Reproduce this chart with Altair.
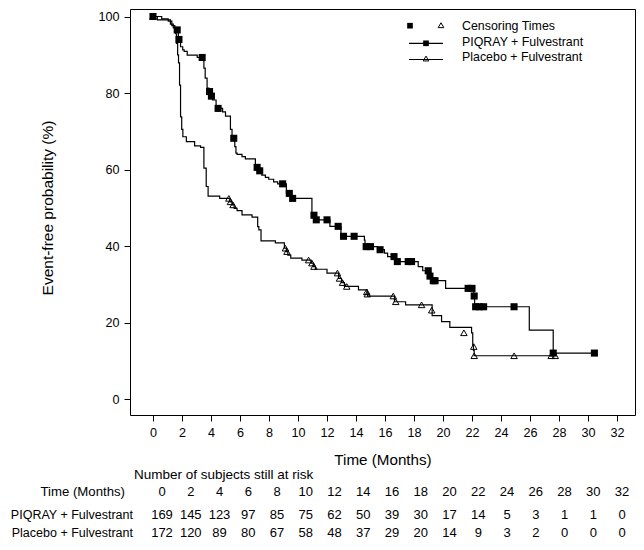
import altair as alt
import pandas as pd

FONT = "Liberation Sans"

# ---- Kaplan-Meier step curves (time in months, event-free %) ----
piqray_t = [0, 0.6, 1.05, 1.3, 1.5, 1.75, 1.9, 2.05, 2.15, 2.36,
            3.05, 3.51, 3.6, 3.73, 3.85, 3.98, 4.1, 4.35, 4.8, 5.0,
            5.34, 5.45, 5.64, 5.72, 5.8, 6.14, 6.37, 7.06, 7.25, 7.5,
            7.75, 7.98, 8.32, 8.6, 9.2, 9.55, 10.96, 11.2, 12.2, 12.96,
            14.58, 14.62, 15.5, 15.96, 16.18, 16.75, 18.29, 18.6, 19.05, 19.25,
            20.18, 22.12, 22.18, 25.95, 27.6, 30.44]
piqray_s = [100, 99.4, 98.8, 97.6, 96.5, 94.0, 92.1, 91.3, 90.9, 89.9,
            89.3, 86.5, 83.9, 81.3, 80.4, 79.2, 78.2, 76.0, 75.1, 74.0,
            70.5, 68.2, 66.0, 64.3, 64.0, 63.4, 62.8, 60.6, 59.7, 58.6,
            58.0, 57.5, 56.8, 56.3, 53.8, 52.5, 48.1, 46.9, 45.2, 42.6,
            41.6, 39.9, 39.1, 38.2, 37.3, 36.0, 34.7, 33.6, 32.2, 31.0,
            29.0, 27.0, 24.2, 18.1, 12.1, 12.1]

placebo_t = [0, 0.3, 1.2, 1.4, 1.55, 1.62, 1.7, 1.76, 1.83, 1.9,
             1.98, 2.06, 2.3, 2.87, 3.28, 3.51, 3.67, 3.8, 4.6, 5.3,
             5.45, 5.6, 5.8, 6.14, 6.83, 7.22, 7.3, 7.45, 8.44, 9.06,
             9.2, 9.3, 9.5, 10.27, 10.9, 11.05, 11.2, 12.0, 12.8, 13.0,
             13.2, 14.17, 14.76, 14.8, 16.65, 17.42, 19.25, 19.9, 20.47, 21.97,
             22.05, 22.1, 22.15, 27.74]
placebo_s = [100, 99.1, 98.0, 97.0, 95.5, 93.0, 90.0, 87.9, 82.1, 73.8,
             70.5, 68.6, 67.3, 66.2, 65.8, 60.4, 55.6, 53.1, 52.5, 51.6,
             50.8, 49.9, 49.3, 48.2, 47.6, 45.1, 44.3, 41.4, 40.9, 39.5,
             38.6, 37.7, 36.9, 36.4, 35.6, 34.7, 34.0, 33.0, 31.6, 30.5,
             29.5, 28.6, 27.5, 27.0, 25.5, 24.7, 21.9, 20.3, 18.8, 17.4,
             14.2, 12.8, 11.4, 11.4]

# ---- Censoring times ----
piqray_cens_t = [0, 1.67, 1.79, 3.39, 3.9, 4.03, 4.49, 5.57, 7.18, 7.36,
                 8.94, 9.4, 9.63, 11.1, 11.26, 12.0, 12.77, 13.14, 13.87, 14.7,
                 15.0, 15.66, 16.62, 16.85, 17.6, 17.83, 18.98, 19.1, 19.33, 19.45,
                 21.73, 22.0, 22.15, 22.25, 22.5, 22.8, 24.9, 27.6, 30.44]
piqray_cens_s = [100, 96.5, 94.0, 89.3, 80.4, 79.2, 76.0, 68.2, 60.6, 59.7,
                 56.3, 53.8, 52.5, 48.1, 46.9, 46.9, 45.2, 42.6, 42.6, 39.9,
                 39.9, 39.1, 37.3, 36.0, 36.0, 36.0, 33.6, 32.2, 31.0, 31.0,
                 29.0, 29.0, 27.0, 24.2, 24.2, 24.2, 24.2, 12.1, 12.1]

placebo_cens_t = [0, 5.23, 5.34, 5.52, 9.13, 9.24, 10.73, 10.96, 11.1, 12.72,
                  12.86, 13.07, 13.36, 14.74, 14.78, 16.57, 16.74, 18.52, 19.22, 21.44,
                  22.12, 22.15, 24.9, 27.46, 27.74]
placebo_cens_s = [100, 52.5, 51.6, 50.8, 39.5, 38.6, 36.4, 35.6, 34.7, 33.0,
                  31.6, 30.5, 29.5, 28.1, 27.5, 27.0, 25.5, 24.7, 23.3, 17.4,
                  13.8, 11.4, 11.4, 11.4, 11.4]

# ---- Number at risk ----
risk_times = [0, 2, 4, 6, 8, 10, 12, 14, 16, 18, 20, 22, 24, 26, 28, 30, 32]
piqray_risk = [169, 145, 123, 97, 85, 75, 62, 50, 39, 30, 17, 14, 5, 3, 1, 1, 0]
placebo_risk = [172, 120, 89, 80, 67, 58, 48, 37, 29, 20, 14, 9, 3, 2, 0, 0, 0]

arm_names = ["PIQRAY + Fulvestrant", "Placebo + Fulvestrant"]
y_ticks = [0, 20, 40, 60, 80, 100]

# ---- tables for the library ----
curves = pd.concat([
    pd.DataFrame({"t": piqray_t, "s": piqray_s, "arm": arm_names[0]}),
    pd.DataFrame({"t": placebo_t, "s": placebo_s, "arm": arm_names[1]}),
])
cens_sq = pd.DataFrame({"t": piqray_cens_t, "s": piqray_cens_s})
cens_tr = pd.DataFrame({"t": placebo_cens_t, "s": placebo_cens_s})

PLOT_W = 505
PLOT_H = 406
xscale = alt.Scale(domain=[-1.586, 33.24], nice=False, zero=False)
yscale = alt.Scale(domain=[-4.07, 101.96], nice=False, zero=False)

xaxis = alt.Axis(values=risk_times, title="Time (Months)", grid=False, domain=False,
                 tickSize=6, labelPadding=5, labelFontSize=12.6, titleFontSize=15.2,
                 titleY=44, titleBaseline="middle", labelFlush=False,
                 labelOverlap=False)
yaxis = alt.Axis(values=y_ticks, title="Event-free probability (%)", grid=False,
                 domain=False, tickSize=6, labelPadding=5, labelFontSize=12.6,
                 titleFontSize=15.5, titleX=-83, titleY=198.5, titleAngle=270,
                 titleAlign="center", titleBaseline="middle", labelFlush=False,
                 labelOverlap=False)
X = alt.X("t:Q", scale=xscale, axis=xaxis)
Y = alt.Y("s:Q", scale=yscale, axis=yaxis)

lines = alt.Chart(curves).mark_line(interpolate="step-after", color="black",
                                    strokeWidth=1.2).encode(x=X, y=Y, detail="arm:N")
squares = alt.Chart(cens_sq).mark_point(shape="square", filled=True, size=50,
                                        color="black", opacity=1).encode(x=X, y=Y)
triangles = alt.Chart(cens_tr).mark_point(shape="triangle-up", filled=False, size=42,
                                          color="black", strokeWidth=1,
                                          opacity=1).encode(x=X, y=Y)

# ---- legend (top right) ----
one = pd.DataFrame({"a": [0]})
leg_rows = pd.DataFrame({"label": ["Censoring Times"] + arm_names,
                         "py": [16.7, 33.3, 48.3]})
leg_text = alt.Chart(leg_rows).mark_text(align="left", baseline="middle", fontSize=12.4,
                                         font=FONT, color="black").encode(
    x=alt.value(332), y=alt.Y("py:Q", scale=None), text="label:N")
leg_line1 = alt.Chart(one).mark_rule(color="black", strokeWidth=1.2).encode(
    x=alt.value(279), x2=alt.value(313), y=alt.value(34.3))
leg_line2 = alt.Chart(one).mark_rule(color="black", strokeWidth=1.2).encode(
    x=alt.value(279), x2=alt.value(313), y=alt.value(50.5))
leg_sq = alt.Chart(pd.DataFrame({"px": [280, 296], "py": [16.7, 34.3]})).mark_point(
    shape="square", filled=True, size=32, color="black", opacity=1).encode(
    x=alt.X("px:Q", scale=None), y=alt.Y("py:Q", scale=None))
leg_tr = alt.Chart(pd.DataFrame({"px": [311, 296], "py": [16.2, 49.5]})).mark_point(
    shape="triangle-up", filled=False, size=32, color="black", strokeWidth=1,
    opacity=1).encode(x=alt.X("px:Q", scale=None), y=alt.Y("py:Q", scale=None))

# ---- number-at-risk table ----
n = len(risk_times)
col_px = [32 + 28.75 * i for i in range(n)]
ROW_Y = [483.0, 506.0, 524.0]
risk_tbl = pd.concat([
    pd.DataFrame({"txt": [str(v) for v in risk_times], "px": col_px, "py": ROW_Y[0]}),
    pd.DataFrame({"txt": [str(v) for v in piqray_risk], "px": col_px, "py": ROW_Y[1]}),
    pd.DataFrame({"txt": [str(v) for v in placebo_risk], "px": col_px, "py": ROW_Y[2]}),
])
risk_nums = alt.Chart(risk_tbl).mark_text(align="center", baseline="middle", fontSize=13,
                                          font=FONT, color="black").encode(
    x=alt.X("px:Q", scale=None), y=alt.Y("py:Q", scale=None), text="txt:N")
time_label = alt.Chart(pd.DataFrame({"txt": ["Time (Months)"]})).mark_text(
    align="right", baseline="middle", fontSize=13.2, font=FONT, color="black").encode(
    x=alt.value(-5), y=alt.value(ROW_Y[0]), text="txt:N")
arm_labels = alt.Chart(pd.DataFrame({"txt": arm_names, "py": ROW_Y[1:]})).mark_text(
    align="right", baseline="middle", fontSize=12.5, font=FONT, color="black").encode(
    x=alt.value(3), y=alt.Y("py:Q", scale=None), text="txt:N")
header = alt.Chart(pd.DataFrame({"txt": ["Number of subjects still at risk"]})).mark_text(
    align="left", baseline="middle", fontSize=13.5, font=FONT, color="black").encode(
    x=alt.value(4), y=alt.value(466), text="txt:N")

chart = alt.layer(
    lines, squares, triangles,
    leg_line1, leg_line2, leg_sq, leg_tr, leg_text,
    risk_nums, time_label, arm_labels, header,
).properties(
    width=PLOT_W, height=PLOT_H,
    autosize=alt.AutoSizeParams(type="none"),
    padding={"left": 122, "top": 1, "right": 1, "bottom": 127},
).configure_view(stroke="black", strokeWidth=1).configure_axis(
    labelColor="black", tickColor="black", titleColor="black",
    labelFont=FONT, titleFont=FONT, titleFontWeight="normal",
    labelOverlap=False)

chart.save("out.html", embed_options={"renderer": "svg", "actions": False})
